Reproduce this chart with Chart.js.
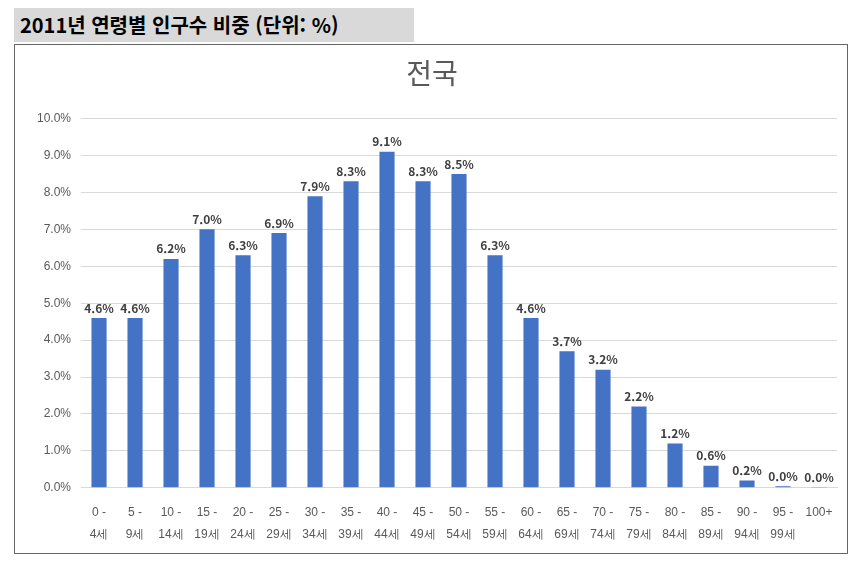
<!DOCTYPE html>
<html lang="ko">
<head>
<meta charset="UTF-8">
<script src="https://cdn.jsdelivr.net/npm/chart.js"></script>
<style>
  body { margin: 0; background: #fff; font-family: "Noto Sans CJK KR", sans-serif; }
  #head {
    position: absolute; left: 14px; top: 8px; width: 400px; height: 34px;
    background: #d9d9d9; font-weight: bold; font-size: 20px; line-height: 34px;
    padding-left: 6px; box-sizing: border-box; color: #000;
  }
  #box {
    position: absolute; left: 14px; top: 44px; width: 834px; height: 510px;
    border: 1px solid #666; box-sizing: border-box;
  }
</style>
</head>
<body>
<div id="head">2011년 연령별 인구수 비중 (단위: %)</div>
<div id="box"><canvas id="c"></canvas></div>
<script>
// age groups and share of population (%)
const ageStart = ['0 -','5 -','10 -','15 -','20 -','25 -','30 -','35 -','40 -','45 -','50 -','55 -','60 -','65 -','70 -','75 -','80 -','85 -','90 -','95 -','100+'];
const ageEnd = ['4세','9세','14세','19세','24세','29세','34세','39세','44세','49세','54세','59세','64세','69세','74세','79세','84세','89세','94세','99세',''];
const shares = [4.6, 4.6, 6.2, 7.0, 6.3, 6.9, 7.9, 8.3, 9.1, 8.3, 8.5, 6.3, 4.6, 3.7, 3.2, 2.2, 1.2, 0.6, 0.2, 0.04, 0.005];

const labels = ageStart.map((s, i) => ageEnd[i] ? [s, ageEnd[i]] : [s, '']);

const valueLabels = {
  id: 'valueLabels',
  afterDatasetsDraw(chart) {
    const ctx = chart.ctx;
    const meta = chart.getDatasetMeta(0);
    ctx.save();
    ctx.font = 'bold 12px "Noto Sans CJK KR", sans-serif';
    ctx.fillStyle = '#404040';
    ctx.textAlign = 'center';
    ctx.textBaseline = 'bottom';
    meta.data.forEach((bar, i) => {
      ctx.fillText(shares[i].toFixed(1) + '%', bar.x, bar.y - 4);
    });
    ctx.restore();
  }
};

new Chart(document.getElementById('c'), {
  type: 'bar',
  data: {
    labels: labels,
    datasets: [{ data: shares, backgroundColor: '#4472c4', categoryPercentage: 1.0, barPercentage: 0.42 }]
  },
  options: {
    responsive: true,
    maintainAspectRatio: false,
    animation: false,
    layout: { padding: { left: 12, right: 10, top: 4, bottom: 2 } },
    plugins: {
      legend: { display: false },
      tooltip: { enabled: false },
      title: {
        display: true, text: '전국', color: '#595959',
        font: { size: 28, family: '"Noto Sans CJK KR", sans-serif', weight: 'normal' },
        padding: { top: 8, bottom: 28 }
      }
    },
    scales: {
      y: {
        min: 0, max: 10,
        ticks: { stepSize: 1, color: '#595959', font: { size: 12 }, padding: 10, callback: v => v.toFixed(1) + '%' },
        grid: { color: '#d9d9d9', drawTicks: false },
        border: { display: false }
      },
      x: {
        ticks: { color: '#595959', font: { size: 12, lineHeight: 1.8 }, padding: 6, maxRotation: 0, autoSkip: false },
        grid: { display: false },
        border: { color: '#d9d9d9' }
      }
    }
  },
  plugins: [valueLabels]
});
</script>
</body>
</html>
